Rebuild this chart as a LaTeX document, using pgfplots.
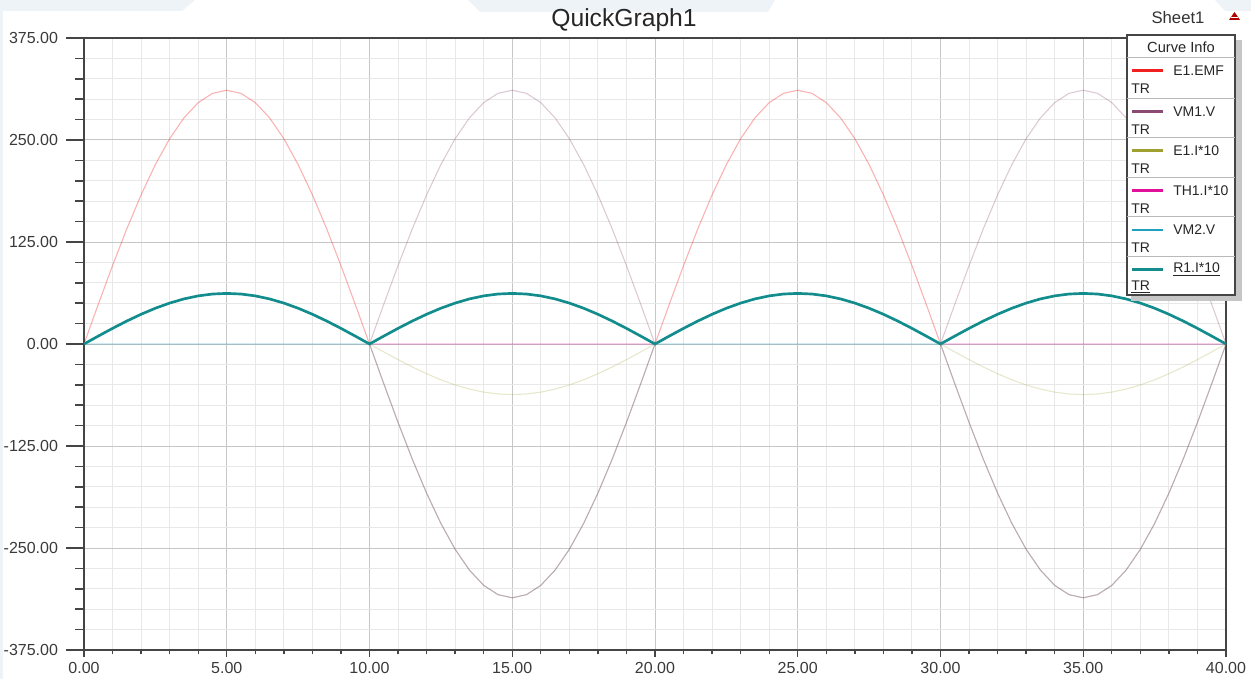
\documentclass[border=0pt]{standalone}
\usepackage{fontspec}
\setmainfont{Liberation Sans}
\usepackage{pgfplots}
\usepackage{pgfplotstable}
\pgfplotsset{compat=1.18}
\definecolor{cEMF}{HTML}{F02020}
\definecolor{cVMa}{HTML}{8B4A72}
\definecolor{cEI}{HTML}{A0A030}
\definecolor{cTH}{HTML}{E0109A}
\definecolor{cVMb}{HTML}{20A0C0}
\definecolor{cR}{HTML}{128C8C}
\definecolor{gridmaj}{HTML}{C6C6C6}
\definecolor{gridmin}{HTML}{E8E8E8}
\definecolor{axisc}{HTML}{454545}
\definecolor{tickc}{HTML}{3A3A3A}
\definecolor{chrome}{HTML}{EEF3F8}

\pgfplotstableread{
t emf vm1 ei th vm2 r1
0.0 0 nan 0 0 0 0
0.5 48.65 nan 9.70 9.70 0 9.70
1.0 96.10 nan 19.16 19.16 0 19.16
1.5 141.19 nan 28.15 28.15 0 28.15
2.0 182.80 nan 36.44 36.44 0 36.44
2.5 219.91 nan 43.84 43.84 0 43.84
3.0 251.60 nan 50.16 50.16 0 50.16
3.5 277.10 nan 55.24 55.24 0 55.24
4.0 295.78 nan 58.97 58.97 0 58.97
4.5 307.17 nan 61.24 61.24 0 61.24
5.0 311.00 nan 62.00 62.00 0 62.00
5.5 307.17 nan 61.24 61.24 0 61.24
6.0 295.78 nan 58.97 58.97 0 58.97
6.5 277.10 nan 55.24 55.24 0 55.24
7.0 251.60 nan 50.16 50.16 0 50.16
7.5 219.91 nan 43.84 43.84 0 43.84
8.0 182.80 nan 36.44 36.44 0 36.44
8.5 141.19 nan 28.15 28.15 0 28.15
9.0 96.10 nan 19.16 19.16 0 19.16
9.5 48.65 nan 9.70 9.70 0 9.70
10.0 0 0 0 0 0 0
10.5 -48.65 48.65 -9.70 0 -48.65 9.70
11.0 -96.10 96.10 -19.16 0 -96.10 19.16
11.5 -141.19 141.19 -28.15 0 -141.19 28.15
12.0 -182.80 182.80 -36.44 0 -182.80 36.44
12.5 -219.91 219.91 -43.84 0 -219.91 43.84
13.0 -251.60 251.60 -50.16 0 -251.60 50.16
13.5 -277.10 277.10 -55.24 0 -277.10 55.24
14.0 -295.78 295.78 -58.97 0 -295.78 58.97
14.5 -307.17 307.17 -61.24 0 -307.17 61.24
15.0 -311.00 311.00 -62.00 0 -311.00 62.00
15.5 -307.17 307.17 -61.24 0 -307.17 61.24
16.0 -295.78 295.78 -58.97 0 -295.78 58.97
16.5 -277.10 277.10 -55.24 0 -277.10 55.24
17.0 -251.60 251.60 -50.16 0 -251.60 50.16
17.5 -219.91 219.91 -43.84 0 -219.91 43.84
18.0 -182.80 182.80 -36.44 0 -182.80 36.44
18.5 -141.19 141.19 -28.15 0 -141.19 28.15
19.0 -96.10 96.10 -19.16 0 -96.10 19.16
19.5 -48.65 48.65 -9.70 0 -48.65 9.70
20.0 0 0 0 0 0 0
20.5 48.65 nan 9.70 9.70 0 9.70
21.0 96.10 nan 19.16 19.16 0 19.16
21.5 141.19 nan 28.15 28.15 0 28.15
22.0 182.80 nan 36.44 36.44 0 36.44
22.5 219.91 nan 43.84 43.84 0 43.84
23.0 251.60 nan 50.16 50.16 0 50.16
23.5 277.10 nan 55.24 55.24 0 55.24
24.0 295.78 nan 58.97 58.97 0 58.97
24.5 307.17 nan 61.24 61.24 0 61.24
25.0 311.00 nan 62.00 62.00 0 62.00
25.5 307.17 nan 61.24 61.24 0 61.24
26.0 295.78 nan 58.97 58.97 0 58.97
26.5 277.10 nan 55.24 55.24 0 55.24
27.0 251.60 nan 50.16 50.16 0 50.16
27.5 219.91 nan 43.84 43.84 0 43.84
28.0 182.80 nan 36.44 36.44 0 36.44
28.5 141.19 nan 28.15 28.15 0 28.15
29.0 96.10 nan 19.16 19.16 0 19.16
29.5 48.65 nan 9.70 9.70 0 9.70
30.0 0 0 0 0 0 0
30.5 -48.65 48.65 -9.70 0 -48.65 9.70
31.0 -96.10 96.10 -19.16 0 -96.10 19.16
31.5 -141.19 141.19 -28.15 0 -141.19 28.15
32.0 -182.80 182.80 -36.44 0 -182.80 36.44
32.5 -219.91 219.91 -43.84 0 -219.91 43.84
33.0 -251.60 251.60 -50.16 0 -251.60 50.16
33.5 -277.10 277.10 -55.24 0 -277.10 55.24
34.0 -295.78 295.78 -58.97 0 -295.78 58.97
34.5 -307.17 307.17 -61.24 0 -307.17 61.24
35.0 -311.00 311.00 -62.00 0 -311.00 62.00
35.5 -307.17 307.17 -61.24 0 -307.17 61.24
36.0 -295.78 295.78 -58.97 0 -295.78 58.97
36.5 -277.10 277.10 -55.24 0 -277.10 55.24
37.0 -251.60 251.60 -50.16 0 -251.60 50.16
37.5 -219.91 219.91 -43.84 0 -219.91 43.84
38.0 -182.80 182.80 -36.44 0 -182.80 36.44
38.5 -141.19 141.19 -28.15 0 -141.19 28.15
39.0 -96.10 96.10 -19.16 0 -96.10 19.16
39.5 -48.65 48.65 -9.70 0 -48.65 9.70
40.0 0 0 0 0 0 0
}\datatable

\begin{document}
\begin{tikzpicture}
% window chrome (background), in image pixel coordinates
\begin{scope}[x=0.75pt,y=-0.75pt,shift={(-63pt,487.5pt)}]
\fill[chrome] (0,0) -- (195,0) -- (182,11) -- (0,11) -- cycle;
\fill[chrome] (0,0) rectangle (3,679);
\fill[chrome] (468,0) -- (775,0) -- (768,12) -- (480,12) -- cycle;
\fill[chrome] (1215,0) -- (1251,0) -- (1251,11) -- (1225,11) -- cycle;
\end{scope}

\begin{axis}[
  scale only axis, width=856.5pt, height=459pt,
  xmin=0, xmax=40, ymin=-375, ymax=375,
  unbounded coords=jump,
  xtick={0,5,...,40},
  xticklabels={0.00,5.00,10.00,15.00,20.00,25.00,30.00,35.00,40.00},
  ytick={-375,-250,-125,0,125,250,375},
  yticklabels={-375.00,-250.00,-125.00,0.00,125.00,250.00,375.00},
  minor x tick num=4, minor y tick num=4,
  grid=both,
  major grid style={draw=gridmaj, line width=0.75pt},
  minor grid style={draw=gridmin, line width=0.75pt},
  axis line style={draw=axisc, line width=1.3pt},
  tick align=outside,
  ytick pos=left, xtick pos=bottom,
  major tick length=13.5pt, minor tick length=6.75pt,
  ytick style={draw=axisc, line width=1.1pt},
  xtick style={draw=none},
  tick label style={font=\fontsize{12}{14}\selectfont, text=tickc},
  yticklabel style={anchor=east, xshift=-2.5pt},
  xticklabel style={anchor=north, yshift=8pt},
]
\addplot[cEMF, opacity=0.35, line width=0.8pt] table[x=t, y=emf] {\datatable};
\addplot[cVMa, opacity=0.3, line width=0.8pt] table[x=t, y=vm1] {\datatable};
\addplot[cEI, opacity=0.25, line width=0.8pt] table[x=t, y=ei] {\datatable};
\addplot[cTH, opacity=0.3, line width=0.8pt] table[x=t, y=th] {\datatable};
\addplot[cVMb, opacity=0.3, line width=0.8pt] table[x=t, y=vm2] {\datatable};
\addplot[cR, line width=2pt] table[x=t, y=r1] {\datatable};
\end{axis}

% second axis: only the short x ticks on the bottom
\begin{axis}[
  scale only axis, width=856.5pt, height=459pt,
  xmin=0, xmax=40, ymin=-375, ymax=375,
  axis x line*=bottom, axis y line=none,
  xtick={0,5,...,40}, xticklabels={},
  minor x tick num=4,
  tick align=outside,
  major tick length=5.25pt, minor tick length=3pt,
  xtick style={draw=axisc, line width=1pt},
  axis line style={draw=axisc, line width=1.3pt, -},
]
\end{axis}

\begin{scope}[x=0.75pt,y=-0.75pt,shift={(-63pt,487.5pt)}]
% title and sheet label
\node[anchor=base, text=black!85, inner sep=0pt] at (624,27) {\fontsize{18.5}{20}\selectfont QuickGraph1};
\node[anchor=base, text=black!80, inner sep=0pt] at (1178,24) {\fontsize{12.5}{14}\selectfont Sheet1};
\fill[red!70!black] (1229,20) -- (1234.5,12) -- (1240,20) -- cycle;
\draw[white, line width=0.5pt] (1231,17.5) -- (1238,17.5);
% legend box
\fill[gray!45] (1131,40) rectangle (1242,301);
\fill[white] (1127,35) rectangle (1235,295);
\draw[axisc, line width=0.9pt] (1127,35) rectangle (1235,295);
\node[text=black!85] at (1181,47.5) {\fontsize{11}{12}\selectfont Curve Info};
\foreach \yy in {57.3,98.3,137.3,177.3,216.7,256} {
  \draw[gray!55, line width=0.6pt] (1127,\yy) -- (1235,\yy);
}
\foreach \yy/\cc/\lab in {57.3/cEMF/E1.EMF, 98.3/cVMa/VM1.V, 137.3/cEI/E1.I*10, 177.3/cTH/TH1.I*10, 216.7/cVMb/VM2.V} {
  \draw[\cc, line width=2pt] (1132,\yy+13.3) -- (1163,\yy+13.3);
  \node[anchor=west, inner sep=0pt, text=black!85] at (1173,\yy+13.3) {\fontsize{10.5}{12}\selectfont \lab};
  \node[anchor=west, inner sep=0pt, text=black!85] at (1131,\yy+31) {\fontsize{10.5}{12}\selectfont TR};
}
\draw[cR, line width=2pt] (1132,269.3) -- (1163,269.3);
\node[anchor=west, inner sep=0pt, text=black!85] at (1173,269.3) {\fontsize{10.5}{12}\selectfont \underline{R1.I*10}};
\node[anchor=west, inner sep=0pt, text=black!85] at (1131,287) {\fontsize{10.5}{12}\selectfont \underline{TR}};
% bounding box = the reference image
\pgfresetboundingbox
\path[use as bounding box] (0,0) rectangle (1251,679);
\end{scope}
\end{tikzpicture}
\end{document}
